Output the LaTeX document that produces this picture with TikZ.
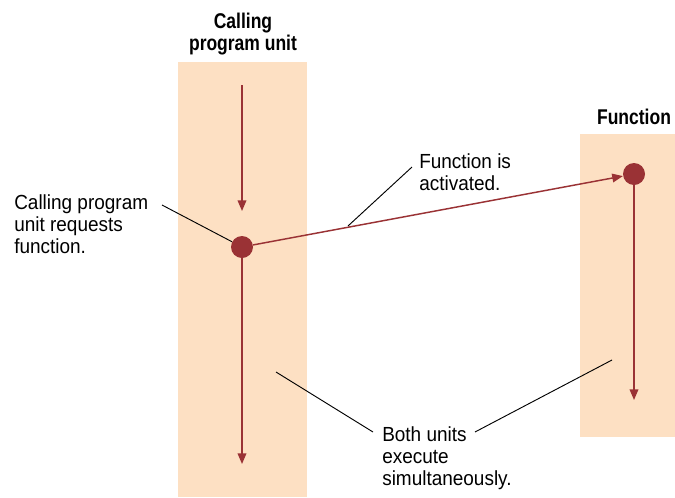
\documentclass[tikz,border=0pt]{standalone}
\usepackage{fontspec}
\setmainfont{Liberation Sans}[FakeStretch=0.93]
\newfontfamily\headfont{Liberation Sans}[FakeStretch=0.82]
\usetikzlibrary{arrows.meta}
\definecolor{unitbg}{HTML}{FDE0C3}
\definecolor{flowred}{HTML}{9A3235}

\begin{document}
\begin{tikzpicture}[x=0.75pt,y=-0.75pt,inner sep=0pt,
  dot/.style={circle,fill=flowred,minimum size=16.5pt},
  flow/.style={draw=flowred,line width=1.1pt,-{Triangle[length=8pt,width=6.5pt]}},
  lead/.style={draw=black,line width=0.7pt},
  note/.style={align=left,anchor=north west,font=\fontsize{15.3}{16.8}\selectfont},
  head/.style={align=center,font=\headfont\bfseries\fontsize{16}{17.2}\selectfont}]
\useasboundingbox (0,0) rectangle (675,497);

% the two program units
\fill[unitbg] (178,62) rectangle (307,497);
\fill[unitbg] (580,134) rectangle (675,437);
\node[head] (callhead) at (243,34) {Calling\\program unit};
\node[head] (funchead) at (634,117) {Function};

% flow of control
\coordinate (calltop) at (242,85);
\coordinate (callmid) at (242,211);
\coordinate (callend) at (242,464);
\coordinate (funcend) at (634,400);
\node[dot] (calldot) at (242,247) {};
\node[dot] (funcdot) at (634,174) {};
\draw[flow] (calltop) -- (callmid);
\draw[flow] (calldot) -- (callend);
\draw[flow] (calldot) -- (funcdot);
\draw[flow] (funcdot) -- (funcend);

% notes
\node[note] (noterequest) at (14,194) {Calling program\\unit requests\\function.};
\node[note] (noteactive) at (419,153) {Function is\\activated.};
\node[note] (noteboth) at (382,426) {Both units\\execute\\simultaneously.};

\coordinate (reqstart) at (162,205);
\coordinate (actstart) at (412,167);
\coordinate (actend) at (348,226);
\coordinate (bothleft) at (373,432);
\coordinate (bothright) at (475,432);
\coordinate (leftend) at (276,372);
\coordinate (rightend) at (612,360);
\draw[lead] (reqstart) -- (calldot);
\draw[lead] (actstart) -- (actend);
\draw[lead] (bothleft) -- (leftend);
\draw[lead] (bothright) -- (rightend);
\end{tikzpicture}
\end{document}
